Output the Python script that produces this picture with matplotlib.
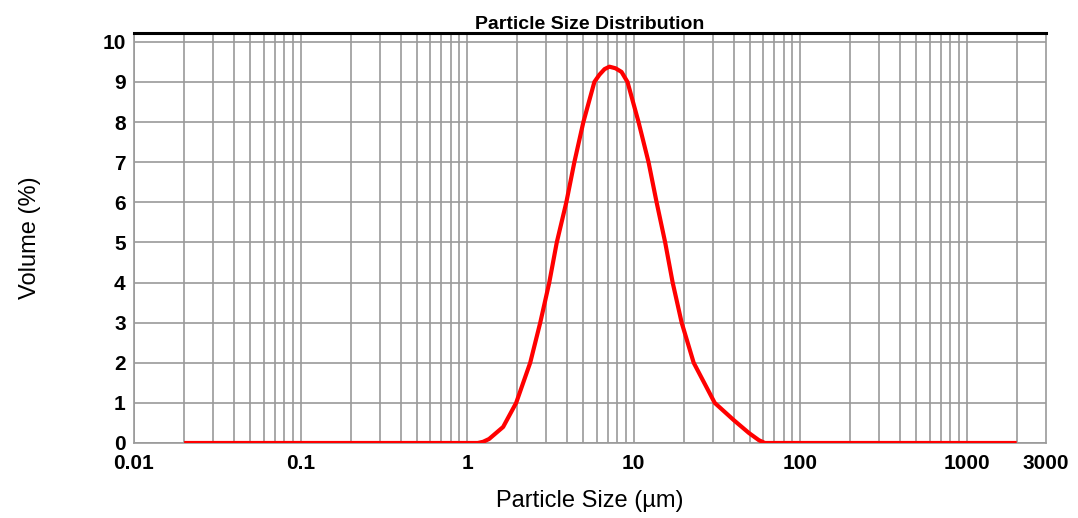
import matplotlib
matplotlib.use("Agg")
import matplotlib.pyplot as plt

plt.rcParams['font.family'] = ['Liberation Sans', 'DejaVu Sans']

# particle size (um) and volume (%)
size_um = [0.02, 0.5, 1.0, 1.16, 1.25, 1.357, 1.648, 1.973, 2.396, 2.753, 3.119,
           3.46, 3.949, 4.412, 4.998, 5.821, 6.24, 6.7, 7.17, 7.8, 8.47, 9.2,
           10.72, 12.31, 13.76, 15.49, 17.18, 19.46, 22.98, 30.74, 40.0, 49.3,
           56.6, 61.5, 100, 2000]
volume_pct = [0, 0, 0, 0, 0.03, 0.1, 0.4, 1.0, 2.0, 3.0, 4.0,
              5.0, 6.0, 7.0, 8.0, 9.0, 9.18, 9.32, 9.38, 9.34, 9.25, 9.0,
              8.0, 7.0, 6.0, 5.0, 4.0, 3.0, 2.0, 1.0, 0.57, 0.25,
              0.07, 0, 0, 0]

major_ticks = [0.01, 0.1, 1, 10, 100, 1000, 3000]
major_labels = ['0.01', '0.1', '1', '10', '100', '1000', '3000']
y_ticks = list(range(0, 11))

fig = plt.figure(figsize=(10.78, 5.18), dpi=100)
ax = fig.add_axes([0.1243, 0.1448, 0.8460, 0.7915])

ax.set_xscale('log')
ax.set_xlim(0.01, 3000)
ax.set_ylim(0, 10.22)

# vertical grid at every 1..9 x decade
grid_x = [m * 10.0 ** e for e in range(-2, 4) for m in range(1, 10) if m * 10.0 ** e <= 2000]
for gx in grid_x:
    ax.axvline(gx, color='#9a9a9a', lw=1.2, zorder=1)
for gy in y_ticks:
    ax.axhline(gy, color='#9a9a9a', lw=1.2, zorder=1)

ax.plot(size_um, volume_pct, color='red', lw=3, zorder=3,
        solid_joinstyle='round', solid_capstyle='butt')

ax.set_xticks(major_ticks)
ax.set_xticklabels(major_labels)
ax.xaxis.set_minor_locator(matplotlib.ticker.NullLocator())
ax.set_yticks(y_ticks)
ax.tick_params(length=0, labelsize=15, pad=6)
ax.tick_params(axis='x', pad=8)
for lbl in ax.get_xticklabels() + ax.get_yticklabels():
    lbl.set_fontweight('bold')

for s in ['left', 'right', 'bottom']:
    ax.spines[s].set_color('#9a9a9a')
    ax.spines[s].set_linewidth(1.2)
ax.spines['top'].set_color('black')
ax.spines['top'].set_linewidth(2.2)

ax.set_title('Particle Size Distribution', fontsize=14, fontweight='bold', pad=2)
ax.set_xlabel('Particle Size (µm)', fontsize=17, labelpad=12)
ax.set_ylabel('Volume (%)', fontsize=17, labelpad=44)

fig.savefig('out.png', dpi=100)
